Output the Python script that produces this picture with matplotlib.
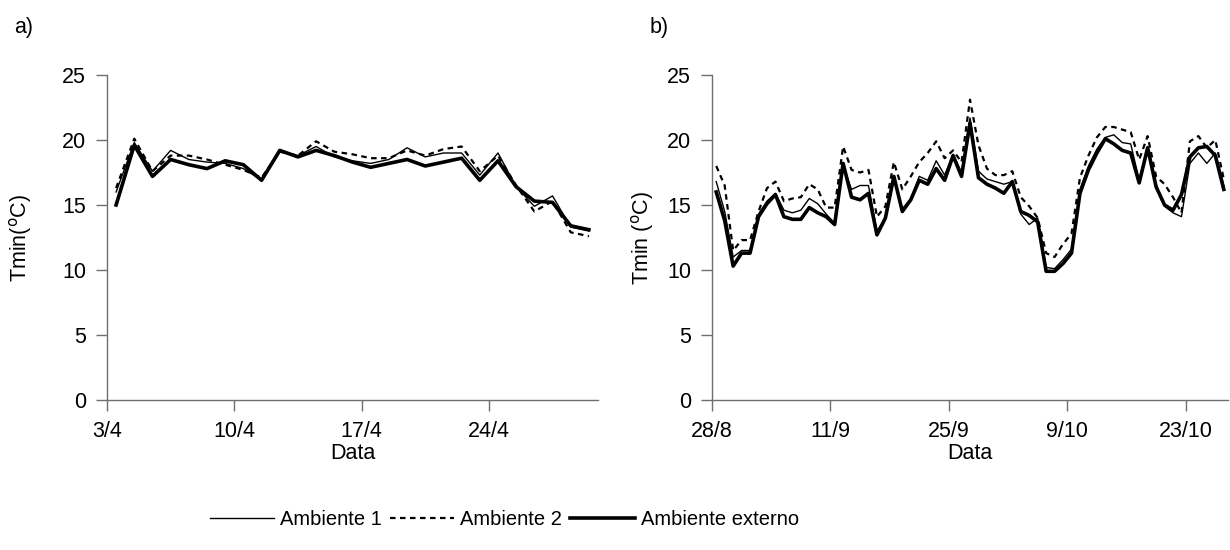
import numpy as np
import matplotlib
matplotlib.use("Agg")
import matplotlib.pyplot as plt

plt.rcParams['font.family'] = ['Liberation Sans', 'DejaVu Sans']

# daily minimum temperature, April (a) and Aug-Oct (b)
amb1_a = [16.0, 19.8, 17.6, 19.2, 18.5, 18.3, 18.2, 17.8, 16.9, 19.1, 18.8, 19.5, 18.7, 18.4,
          18.2, 18.5, 19.4, 18.7, 19.0, 19.0, 17.3, 19.0, 16.4, 14.9, 15.7, 13.3, 13.0]
amb2_a = [16.3, 20.1, 17.6, 18.8, 18.8, 18.5, 18.1, 17.7, 17.1, 19.1, 18.8, 19.9, 19.1, 18.9,
          18.6, 18.6, 19.2, 18.8, 19.3, 19.5, 17.6, 18.8, 16.5, 14.5, 15.3, 12.9, 12.6]
ext_a = [15.0, 19.6, 17.2, 18.5, 18.1, 17.8, 18.4, 18.1, 16.9, 19.2, 18.7, 19.2, 18.8, 18.3,
         17.9, 18.2, 18.5, 18.0, 18.3, 18.6, 16.9, 18.4, 16.4, 15.3, 15.2, 13.4, 13.1]
ticks_a = [0, 7, 14, 21]
labels_a = ['3/4', '10/4', '17/4', '24/4']

amb1_b = [16.8, 14.5, 11.0, 11.5, 11.5, 14.3, 15.3, 15.9, 14.6, 14.4,
          14.6, 15.5, 15.1, 14.3, 13.6, 18.0, 16.2, 16.5, 16.5, 13.0,
          14.0, 17.2, 14.7, 15.5, 17.2, 16.9, 18.4, 17.3, 18.9, 17.5,
          21.7, 17.6, 17.0, 16.8, 16.6, 16.8, 14.3, 13.5, 14.0, 10.2,
          10.1, 10.8, 11.6, 16.2, 18.0, 19.3, 20.2, 20.4, 19.8, 19.7,
          16.9, 19.5, 16.6, 14.9, 14.4, 14.1, 18.2, 19.0, 18.2, 19.0, 16.5]
amb2_b = [18.0, 16.5, 11.5, 12.3, 12.3, 14.5, 16.3, 16.8, 15.3, 15.5,
          15.6, 16.6, 16.2, 14.8, 14.8, 19.5, 17.7, 17.5, 17.7, 14.1,
          14.9, 18.3, 16.2, 17.2, 18.3, 19.0, 19.9, 18.6, 19.2, 18.3,
          23.1, 19.6, 17.8, 17.3, 17.3, 17.6, 15.6, 14.9, 14.0, 11.3,
          11.0, 12.0, 12.8, 17.1, 18.8, 20.2, 21.0, 21.0, 20.8, 20.6,
          18.5, 20.3, 17.2, 16.6, 15.6, 14.4, 19.9, 20.3, 19.4, 20.0, 17.0]
ext_b = [16.0, 13.8, 10.3, 11.3, 11.3, 14.1, 15.1, 15.8, 14.1, 13.9,
         13.9, 14.8, 14.4, 14.1, 13.5, 18.2, 15.6, 15.4, 15.9, 12.7,
         14.0, 17.2, 14.5, 15.4, 16.9, 16.6, 17.8, 16.9, 18.8, 17.2,
         21.3, 17.1, 16.6, 16.3, 15.9, 16.8, 14.5, 14.2, 13.7, 9.9,
         9.9, 10.5, 11.3, 15.9, 17.7, 19.0, 20.1, 19.7, 19.2, 19.0,
         16.7, 19.4, 16.4, 15.0, 14.6, 15.8, 18.7, 19.4, 19.5, 18.8, 16.2]
ticks_b = [0, 14, 28, 42, 56]
labels_b = ['28/8', '11/9', '25/9', '9/10', '23/10']

series_names = ['Ambiente 1', 'Ambiente 2', 'Ambiente externo']

fig = plt.figure(figsize=(12.3, 5.5), dpi=100)
W, H = 1230, 550


def px_axes(l, t, r, b):
    return fig.add_axes([l / W, 1 - b / H, (r - l) / W, (b - t) / H])


ax_a = px_axes(107, 75, 598, 400)
ax_b = px_axes(712, 75, 1228, 400)

axcol = '#6e6e6e'
fs = 15.5


def draw(ax, a1, a2, ex, ticks, labels, ylabel, tag, ypad, tag_dx):
    x = np.arange(len(ex)) + 0.5
    ax.plot(x, a1, color='black', lw=1.0, label=series_names[0])
    ax.plot(x, a2, color='black', lw=1.6, ls=(0, (2.5, 2.0)), label=series_names[1])
    ax.plot(x, ex, color='black', lw=2.6, label=series_names[2])
    ax.set_xlim(0, len(ex))
    ax.set_ylim(0, 25)
    ax.set_yticks(range(0, 26, 5))
    ax.set_xticks(ticks)
    ax.set_xticklabels(labels)
    for s in ['top', 'right']:
        ax.spines[s].set_visible(False)
    for s in ['left', 'bottom']:
        ax.spines[s].set_color(axcol)
        ax.spines[s].set_linewidth(1.0)
    ax.tick_params(axis='both', direction='out', length=8, width=1.0, color=axcol,
                   labelsize=fs)
    ax.tick_params(axis='y', pad=7)
    ax.tick_params(axis='x', pad=7)
    ax.set_xlabel('Data', fontsize=fs, labelpad=1)
    ax.set_ylabel(ylabel, fontsize=fs, labelpad=ypad)
    # panel tag in pixel units relative to the axes origin
    ax.annotate(tag, xy=(0, 1), xycoords='axes fraction', xytext=(tag_dx, 48),
                textcoords='offset pixels', fontsize=fs, ha='left', va='center')


draw(ax_a, amb1_a, amb2_a, ext_a, ticks_a, labels_a, 'Tmin($^{\\rm o}$C)', 'a)', 20, -93)
draw(ax_b, amb1_b, amb2_b, ext_b, ticks_b, labels_b, 'Tmin ($^{\\rm o}$C)', 'b)', 8, -62)

handles, lbls = ax_a.get_legend_handles_labels()
fig.legend(handles, lbls, loc='center', bbox_to_anchor=(0.41, 0.055), ncol=3,
           frameon=False, fontsize=14.5, handlelength=3.2, handletextpad=0.3,
           columnspacing=0.4)

fig.savefig('out.png', dpi=100)
